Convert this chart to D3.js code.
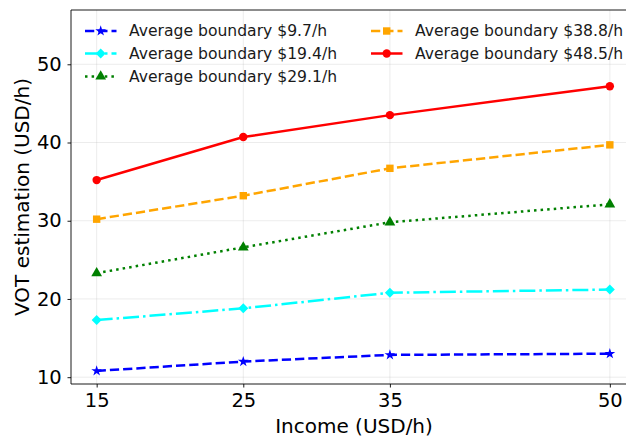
<!DOCTYPE html>
<html><head><meta charset="utf-8">
<script src="https://cdn.jsdelivr.net/npm/d3@7"></script>
<style>body{margin:0;background:#fff}svg{display:block}text{font-family:"DejaVu Sans",sans-serif}</style>
</head><body><svg id="c" width="626" height="438"></svg>
<script>
const incomes = [15, 25, 35, 50];
const xTicks = [15, 25, 35, 50];
const yTicks = [10, 20, 30, 40, 50];
const seriesNames = ["Average boundary $9.7/h","Average boundary $19.4/h","Average boundary $29.1/h","Average boundary $38.8/h","Average boundary $48.5/h"];
const b97  = [10.8, 12.0, 12.85, 13.0];
const b194 = [17.3, 18.8, 20.8, 21.2];
const b291 = [23.3, 26.6, 29.8, 32.1];
const b388 = [30.2, 33.2, 36.7, 39.7];
const b485 = [35.2, 40.7, 43.5, 47.2];
const xLabel = "Income (USD/h)";
const yLabel = "VOT estimation (USD/h)";

const styles = [
  {color:"#0000ff", dash:"9.25,4", marker:"star"},
  {color:"#00ffff", dash:"16,4,2.5,4", marker:"diamond"},
  {color:"#008000", dash:"2.5,4.1", marker:"triangle"},
  {color:"#ffa500", dash:"9.25,4", marker:"square"},
  {color:"#ff0000", dash:null, marker:"circle"}
];
const allSeries = [b97, b194, b291, b388, b485];

const svg = d3.select("#c");
const L = 71, R = 635.5, T = 10, B = 384;
const x = d3.scaleLinear().domain([13.25, 51.75]).range([L, R]);
const y = d3.scaleLinear().domain([9.13, 56.94]).range([B, T]);

// grid
const g = svg.append("g");
g.selectAll(".gx").data(xTicks).join("line").attr("x1",d=>x(d)).attr("x2",d=>x(d)).attr("y1",T).attr("y2",B)
  .attr("stroke","#b0b0b0").attr("stroke-opacity",0.3).attr("stroke-width",0.8);
g.selectAll(".gy").data(yTicks).join("line").attr("x1",L).attr("x2",R).attr("y1",d=>y(d)).attr("y2",d=>y(d))
  .attr("stroke","#b0b0b0").attr("stroke-opacity",0.3).attr("stroke-width",0.8);

function markerPath(type, size){
  const map = {star:d3.symbolStar, diamond:d3.symbolSquare, triangle:d3.symbolTriangle, square:d3.symbolSquare, circle:d3.symbolCircle};
  return d3.symbol().type(map[type]).size(size)();
}
const markerSize = {star:36, diamond:50, triangle:50, square:55, circle:55};
const markerRot = m => m==="diamond" ? " rotate(45)" : "";

const line = d3.line().x((d,i)=>x(incomes[i])).y(d=>y(d));
allSeries.forEach((vals, si)=>{
  const s = styles[si];
  svg.append("path").datum(vals).attr("d", line).attr("fill","none").attr("stroke", s.color)
    .attr("stroke-width",2.5).attr("stroke-dasharray", s.dash);
  svg.selectAll(".m"+si).data(vals).join("path")
    .attr("transform",(d,i)=>`translate(${x(incomes[i])},${y(d)})${markerRot(s.marker)}`)
    .attr("d", markerPath(s.marker, markerSize[s.marker])).attr("fill", s.color);
});

// axes
const xAxis = d3.axisBottom(x).tickValues(xTicks).tickSize(3.5).tickPadding(5.8);
const yAxis = d3.axisLeft(y).tickValues(yTicks).tickSize(3.5).tickPadding(5.8);
const gx = svg.append("g").attr("transform",`translate(0,${B})`).call(xAxis);
const gy = svg.append("g").attr("transform",`translate(${L},0)`).call(yAxis);
[gx, gy].forEach(a=>{
  a.select(".domain").remove();
  a.selectAll("line").attr("stroke","#000").attr("stroke-width",0.9);
  a.selectAll("text").attr("font-size",19.5).attr("fill","#000").style("font-family","DejaVu Sans");
});
// spines
svg.append("line").attr("x1",L).attr("x2",L).attr("y1",T).attr("y2",B).attr("stroke","#000").attr("stroke-width",0.9);
svg.append("line").attr("x1",L).attr("x2",R).attr("y1",B).attr("y2",B).attr("stroke","#000").attr("stroke-width",0.9);
svg.append("line").attr("x1",L).attr("x2",R).attr("y1",T).attr("y2",T).attr("stroke","#000").attr("stroke-width",0.9);

svg.append("text").attr("x",354).attr("y",433).attr("text-anchor","middle").attr("font-size",20).text(xLabel);
svg.append("text").attr("transform",`translate(28.5,${(T+B)/2}) rotate(-90)`).attr("text-anchor","middle").attr("font-size",20).text(yLabel);

// legend
const leg = svg.append("g");
const colX = [85, 371];
const rowY = [31, 53.5, 76.5];
const pos = [[0,0],[0,1],[0,2],[1,0],[1,1]];
seriesNames.forEach((name, si)=>{
  const s = styles[si];
  const [c, r] = pos[si];
  const lx = colX[c], ly = rowY[r];
  leg.append("line").attr("x1",lx).attr("x2",lx+31.5).attr("y1",ly).attr("y2",ly).attr("stroke",s.color)
    .attr("stroke-width",2.5).attr("stroke-dasharray",s.dash);
  leg.append("path").attr("transform",`translate(${lx+15.7},${ly})${markerRot(s.marker)}`)
    .attr("d", markerPath(s.marker, markerSize[s.marker])).attr("fill", s.color);
  leg.append("text").attr("x",lx+44).attr("y",ly).attr("dy","0.35em").attr("font-size",15.6).attr("fill","#1a1a1a").text(name);
});
</script></body></html>
